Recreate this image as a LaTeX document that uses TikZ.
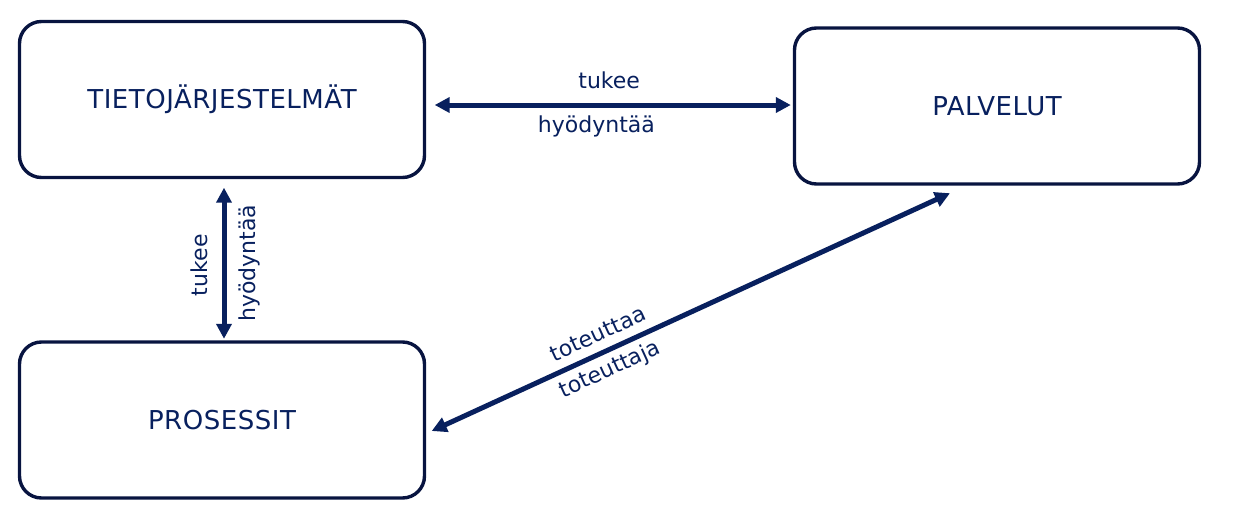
\documentclass[tikz,border=0pt]{standalone}
\usepackage{fontspec}
\setmainfont{DejaVu Sans}
\usetikzlibrary{arrows.meta,calc}
\definecolor{navy}{RGB}{8,32,94}
\definecolor{boxline}{RGB}{8,20,64}
\begin{document}
\begin{tikzpicture}[x=1pt,y=-1pt,
  box/.style={draw=boxline, line width=3.4pt, rounded corners=22pt,
    minimum width=405pt, minimum height=156pt, inner sep=0pt, text=navy,
    font=\fontsize{26}{30}\selectfont\addfontfeatures{LetterSpace=2}},
  conn/.style={draw=navy, line width=5pt,
    {Triangle[length=15pt,width=15pt]}-{Triangle[length=15pt,width=15pt]}},
  lbl/.style={text=navy, inner sep=0pt, text height=16pt, text depth=5pt,
    font=\fontsize{22}{26}\selectfont}]
\useasboundingbox (0,0) rectangle (1240,525);
\node[box] (tj) at (222,99.5) {TIETOJÄRJESTELMÄT};
\node[box] (pv) at (997,106) {PALVELUT};
\node[box] (pr) at (222,420) {PROSESSIT};
% horizontal
\draw[conn] ($(tj.east)+(8.5,5.5)$) -- ($(pv.west)+(-2,-1)$)
  node[lbl, pos=0.49, yshift=22pt] {tukee}
  node[lbl, pos=0.454, yshift=-22pt] {hyödyntää};
% vertical
\draw[conn] ($(pr.north)+(2,-1.5)$) -- ($(tj.south)+(2,8.5)$)
  node[lbl, pos=0.487, sloped, yshift=22pt] {tukee}
  node[lbl, pos=0.5, sloped, yshift=-26pt] {hyödyntää};
% diagonal
\draw[conn] ($(pr.east)+(5.5,11)$) -- ($(pv.south)+(-47,7.5)$)
  node[lbl, pos=0.336, sloped, yshift=17pt] {toteuttaa}
  node[lbl, pos=0.329, sloped, yshift=-19.5pt] {toteuttaja};
\end{tikzpicture}
\end{document}
